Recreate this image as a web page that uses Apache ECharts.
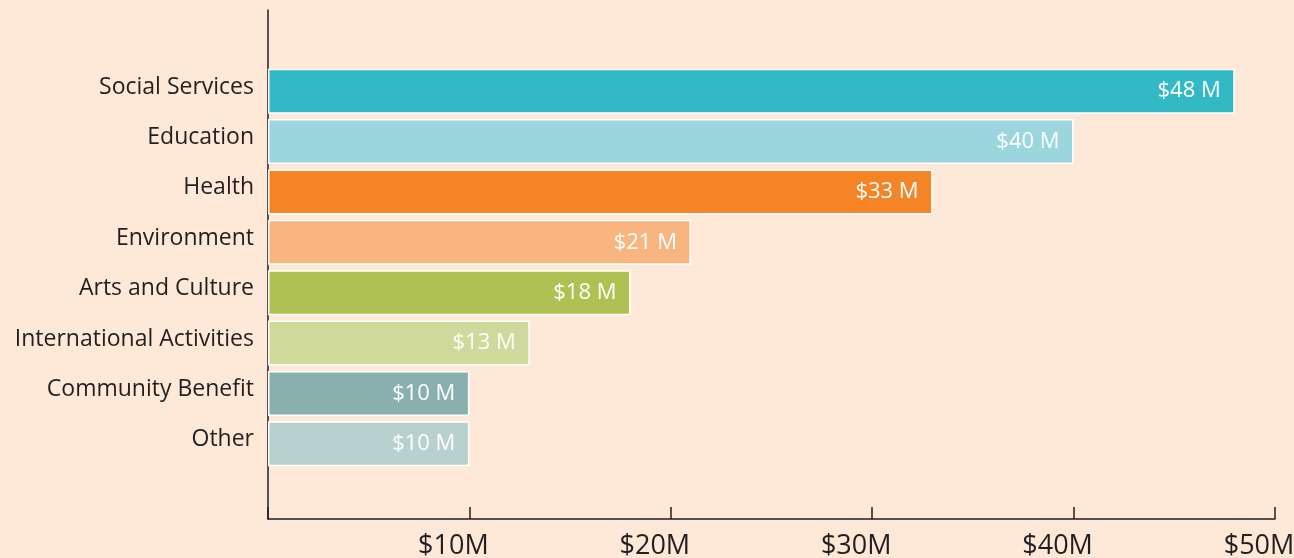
<!DOCTYPE html>
<html>
<head>
<meta charset="utf-8">
<script src="https://cdn.jsdelivr.net/npm/echarts@6/dist/echarts.min.js"></script>
<style>
    html, body { margin: 0; padding: 0; background: #fee8d7; }
    #giving_chart { width: 1294px; height: 558px; }
</style>
</head>
<body>
<div id="giving_chart"></div>
<script>

// Chart data
// ------------------------------

var categories = ['Social Services', 'Education', 'Health', 'Environment', 'Arts and Culture', 'International Activities', 'Community Benefit', 'Other'];
var amounts = [48, 40, 33, 21, 18, 13, 10, 10];
var barColors = ['#33b8c6', '#9bd5de', '#f48426', '#f9b57f', '#afc152', '#cfd99b', '#88b0ae', '#b8d1cf'];
var tickLabels = ['', '$10M', '$20M', '$30M', '$40M', '$50M'];


// Setup chart
// ------------------------------

var chart_element = document.getElementById('giving_chart');
var giving_chart = echarts.init(chart_element, null, { renderer: 'canvas' });

// Common styles
var fontFamily = '"Open Sans", "Noto Sans", sans-serif';
var inkColor = '#231f20';

giving_chart.setOption({

    backgroundColor: '#fee8d7',
    animation: false,

    textStyle: {
        fontFamily: fontFamily,
        color: inkColor
    },

    // Outer frame grid (axes) and inner bar grid
    grid: [
        { left: 268, right: 19, top: 10, bottom: 39, outerBoundsMode: 'none', containLabel: false },
        { left: 268, right: 19, top: 66, bottom: 89, outerBoundsMode: 'none', containLabel: false }
    ],

    xAxis: [
        {
            gridIndex: 0,
            type: 'value',
            min: 0,
            max: 50,
            interval: 10,
            axisLine: { show: true, lineStyle: { color: inkColor, width: 1.5 } },
            axisTick: { show: true, inside: true, length: 12, lineStyle: { color: inkColor, width: 1.5 } },
            axisLabel: {
                color: inkColor,
                fontSize: 27,
                margin: 14,
                padding: [0, 32, 0, 0],
                hideOverlap: false,
                formatter: function(value) {
                    return tickLabels[value / 10];
                }
            },
            splitLine: { show: false }
        },
        {
            gridIndex: 1,
            type: 'value',
            min: 0,
            max: 50,
            show: false
        }
    ],

    yAxis: [
        {
            gridIndex: 0,
            type: 'value',
            axisLine: { show: true, lineStyle: { color: inkColor, width: 1.5 } },
            axisTick: { show: false },
            axisLabel: { show: false },
            splitLine: { show: false }
        },
        {
            gridIndex: 1,
            type: 'category',
            inverse: true,
            data: categories,
            axisLine: { show: false },
            axisTick: { show: false },
            axisLabel: {
                color: inkColor,
                fontSize: 23,
                margin: 14,
                verticalAlign: 'bottom',
                lineHeight: 8
            }
        }
    ],

    series: [
        {
            name: 'Giving',
            type: 'bar',
            xAxisIndex: 1,
            yAxisIndex: 1,
            barWidth: 45,
            data: amounts.map(function(v, i) {
                return { value: v, itemStyle: { color: barColors[i] } };
            }),
            itemStyle: {
                borderColor: '#ffffff',
                borderWidth: 1.5
            },
            label: {
                show: true,
                position: 'insideRight',
                distance: 14,
                color: '#ffffff',
                fontSize: 22,
                fontFamily: fontFamily,
                formatter: function(p) {
                    return '$' + p.value + ' M';
                }
            }
        }
    ]
});

</script>
</body>
</html>
